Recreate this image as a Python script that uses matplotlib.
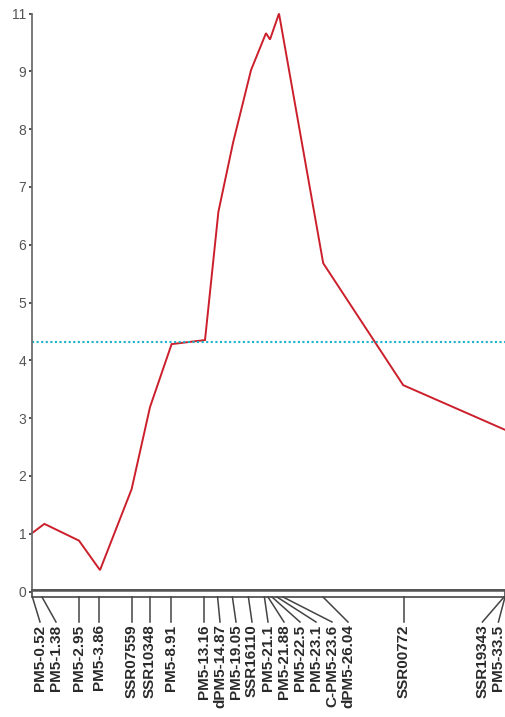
import numpy as np
import matplotlib.pyplot as plt
from matplotlib.patches import Rectangle

# linkage group markers and their map positions (cM)
markers = ['PM5-0.52', 'PM5-1.38', 'PM5-2.95', 'PM5-3.86', 'SSR07559', 'SSR10348',
           'PM5-8.91', 'PM5-13.16', 'dPM5-14.87', 'PM5-19.05', 'SSR16110', 'PM5-21.1',
           'PM5-21.88', 'PM5-22.5', 'PM5-23.1', 'C-PM5-23.6', 'dPM5-26.04', 'SSR00772',
           'SSR19343', 'PM5-33.5']
marker_pos = [0.1, 2.5, 11.75, 16.75, 24.9, 29.4, 34.7, 43.0, 46.4, 50.1, 54.1, 58.1,
              59.0, 60.0, 61.25, 62.75, 72.75, 92.9, 118.0, 118.25]

# LOD profile along the group
lod_pos = [0.0, 3.1, 11.75, 17.0, 24.9, 29.5, 34.9, 43.25, 46.6, 50.25, 54.75,
           58.5, 59.5, 61.75, 72.8, 92.8, 118.5]
lod = [1.01, 1.17, 0.88, 0.37, 1.77, 3.19, 4.28, 4.35, 6.57, 7.76, 9.02,
       9.66, 9.55, 10.0, 5.68, 3.57, 2.79]
threshold = 4.32

yticks = [0, 1, 2, 3, 4, 5, 6, 7, 8, 9, 10]
ytick_labels = ['0', '1', '2', '3', '4', '5', '6', '7', '8', '9', '11']

plt.rcParams['font.family'] = ['Liberation Sans', 'DejaVu Sans']

W, H = 506, 717
fig = plt.figure(figsize=(W / 100, H / 100), dpi=100)
left = 32 / W
width = 1 - left
xmax = 118.5

# LOD panel
ax = fig.add_axes([left, (H - 591.5) / H, width, 578 / H])
ax.plot(lod_pos, lod, color='#cc1f2c', lw=1.4, solid_joinstyle='miter', clip_on=False)
ax.axhline(threshold, color='#1ab3c9', lw=1.5, ls=(0, (1, 1.2)))
ax.set_xlim(0, xmax)
ax.set_ylim(0, 10)
ax.set_yticks(yticks)
ax.set_yticklabels(ytick_labels)
ax.set_xticks([])
for s in ['top', 'right', 'bottom']:
    ax.spines[s].set_visible(False)
ax.spines['left'].set_color('#6e6e6e')
ax.spines['left'].set_linewidth(1.3)
ax.tick_params(axis='y', length=2, width=1.2, color='#333333', pad=2,
               labelsize=10, labelcolor='#555555')
ax.patch.set_alpha(0)

# chromosome bar and marker labels
axm = fig.add_axes([left, 0, width, 128 / H])
axm.set_xlim(0, xmax)
axm.set_ylim(128, 0)
axm.axis('off')
axm.add_patch(Rectangle((0, 1.2), marker_pos[-1], 6.8, facecolor='white',
                        edgecolor='#555555', lw=1.3, clip_on=False))
axm.plot([0, marker_pos[-1]], [1.2, 1.2], color='#555555', lw=1.8, clip_on=False)

# spread labels so they don't overlap (min gap in cM)
gap = 4.0
lab = list(marker_pos)
lab[0] = max(lab[0], 2.0)
for i in range(1, len(lab)):
    lab[i] = max(lab[i], lab[i - 1] + gap)
lab[-1] = min(lab[-1], 116.6)
for i in range(len(lab) - 2, -1, -1):
    lab[i] = min(lab[i], lab[i + 1] - gap)

for name, p, q in zip(markers, marker_pos, lab):
    axm.plot([p, q], [8, 33], color='#444444', lw=1.1, clip_on=False)
    axm.text(q, 35.5, name, rotation=90, ha='center', va='top', fontsize=11,
             fontweight='bold', color='#2a2a2a', clip_on=False)

fig.savefig('out.png', dpi=100)
